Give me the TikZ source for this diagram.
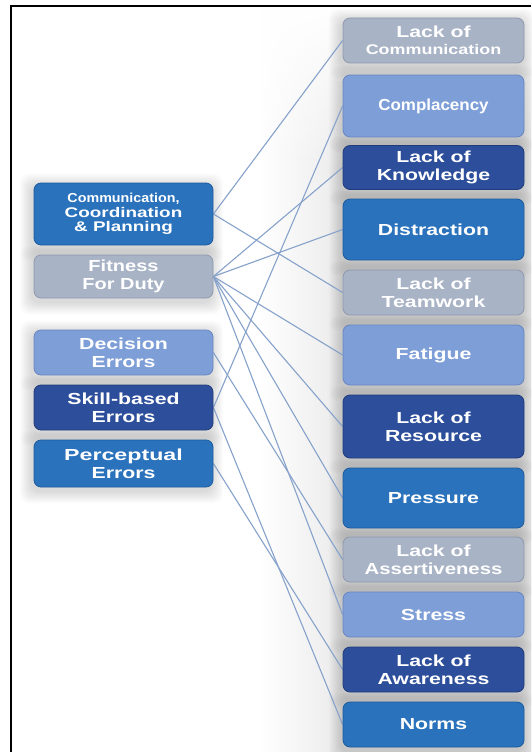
\documentclass[tikz,border=0pt]{standalone}
\usepackage{fontspec}
\setmainfont{Liberation Sans}
\usepackage{graphicx}
\usetikzlibrary{fadings}
\pgfdeclarelayer{shadowlayer}
\pgfdeclarelayer{linelayer}
\pgfsetlayers{shadowlayer,linelayer,main}
\definecolor{cgrey}{HTML}{A8B3C6}
\definecolor{cgreyD}{HTML}{8E99AD}
\definecolor{clight}{HTML}{7E9ED7}
\definecolor{clightD}{HTML}{6886C0}
\definecolor{cdark}{HTML}{2C4E9B}
\definecolor{cdarkD}{HTML}{1F3B7A}
\definecolor{cmed}{HTML}{2A72BC}
\definecolor{cmedD}{HTML}{1D5B9C}
\definecolor{cline}{HTML}{86A2CB}
\newcommand\wt[2][1.33]{\scalebox{#1}[1]{#2}}
\begin{document}
\begin{tikzpicture}[x=1pt,y=-1pt,
  box/.style={rounded corners=7pt, text=white, align=center,
    font=\bfseries\fontsize{16}{18}\selectfont, inner sep=0pt, line width=0.8pt},
  rbox/.style={box, minimum width=181pt},
  lbox/.style={box, minimum width=179pt},
  sgrey/.style={fill=cgrey, draw=cgreyD},
  slight/.style={fill=clight, draw=clightD},
  sdark/.style={fill=cdark, draw=cdarkD},
  smed/.style={fill=cmed, draw=cmedD},
  link/.style={draw=cline, line width=1.1pt}]
\useasboundingbox (0,0) rectangle (531,752);

% right column
\node[rbox, sgrey, minimum height=45pt] (rLoC) at (433.5,40.5) {\wt{Lack of}\\[-1pt]{\fontsize{14}{15}\selectfont\wt[1.28]{Communication}}};
\node[rbox, slight, minimum height=62pt] (rComp) at (433.5,106) {\wt[1.06]{Complacency}};
\node[rbox, sdark, minimum height=44pt] (rKnow) at (433.5,167.5) {\wt{Lack of}\\\wt{Knowledge}};
\node[rbox, smed, minimum height=61pt] (rDist) at (433.5,229.5) {\wt{Distraction}};
\node[rbox, sgrey, minimum height=45pt] (rTeam) at (433.5,292.5) {\wt{Lack of}\\\wt{Teamwork}};
\node[rbox, slight, minimum height=60pt] (rFat) at (433.5,355) {\wt{Fatigue}};
\node[rbox, sdark, minimum height=63pt] (rRes) at (433.5,426.5) {\wt{Lack of}\\\wt{Resource}};
\node[rbox, smed, minimum height=60pt] (rPres) at (433.5,498) {\wt{Pressure}};
\node[rbox, sgrey, minimum height=45pt] (rAss) at (433.5,559.5) {\wt{Lack of}\\\wt[1.27]{Assertiveness}};
\node[rbox, slight, minimum height=45pt] (rStress) at (433.5,614.5) {\wt{Stress}};
\node[rbox, sdark, minimum height=45pt] (rAware) at (433.5,669.5) {\wt{Lack of}\\\wt{Awareness}};
\node[rbox, smed, minimum height=45pt] (rNorms) at (433.5,724.5) {\wt{Norms}};

% left column
\node[lbox, smed, minimum height=62pt, font=\bfseries\fontsize{14}{14.5}\selectfont] (lCCP) at (123.5,214) {{\fontsize{13}{14.5}\selectfont\wt[1.1]{Communication,}}\\\wt[1.35]{Coordination}\\\wt[1.35]{\& Planning}};
\node[lbox, sgrey, minimum height=43pt] (lFit) at (123.5,276.5) {\wt[1.25]{Fitness}\\\wt[1.25]{For Duty}};
\node[lbox, slight, minimum height=45pt] (lDec) at (123.5,352.5) {\wt{Decision}\\\wt{Errors}};
\node[lbox, sdark, minimum height=45pt] (lSkill) at (123.5,407.5) {\wt{Skill-based}\\\wt{Errors}};
\node[lbox, smed, minimum height=47pt] (lPerc) at (123.5,463.5) {\wt[1.45]{Perceptual}\\\wt{Errors}};

% background, soft shadows and band
\begin{pgfonlayer}{shadowlayer}
  \fill[white] (0,0) rectangle (531,752);
  \shade[left color=white, right color=black!8] (258,10) rectangle (343,752);
  \fill[black!8] (343,10) rectangle (531,752);
  \fill[white, path fading=south] (250,7) rectangle (531,170);
  \foreach \n in {rLoC,rComp,rKnow,rDist,rTeam,rFat,rRes,rPres,rAss,rStress,rAware,rNorms,lCCP,lFit,lDec,lSkill,lPerc}{
    \foreach \d in {1,...,12}{
      \fill[black, opacity=0.011, rounded corners=10pt]
        ([shift={(-\d pt-2pt,\d pt-3pt)}]\n.north west) rectangle
        ([shift={(\d pt-2pt,-\d pt-4pt)}]\n.south east);
    }
  }
\end{pgfonlayer}

% connectors
\begin{pgfonlayer}{linelayer}
  \draw[link] (lCCP.east) -- (rLoC.west);
  \draw[link] (lCCP.east) -- (rTeam.west);
  \draw[link] (lFit.east) -- (rKnow.west);
  \draw[link] (lFit.east) -- (rDist.west);
  \draw[link] (lFit.east) -- (rFat.west);
  \draw[link] (lFit.east) -- (rRes.west);
  \draw[link] (lFit.east) -- (rPres.west);
  \draw[link] (lFit.east) -- (rStress.west);
  \draw[link] (lDec.east) -- (rAss.west);
  \draw[link] (lSkill.east) -- (rComp.west);
  \draw[link] (lSkill.east) -- (rNorms.west);
  \draw[link] (lPerc.east) -- (rAware.west);
\end{pgfonlayer}

% frame
\draw[line width=2pt] (11,752) -- (11,6) -- (531,6);
\end{tikzpicture}
\end{document}
